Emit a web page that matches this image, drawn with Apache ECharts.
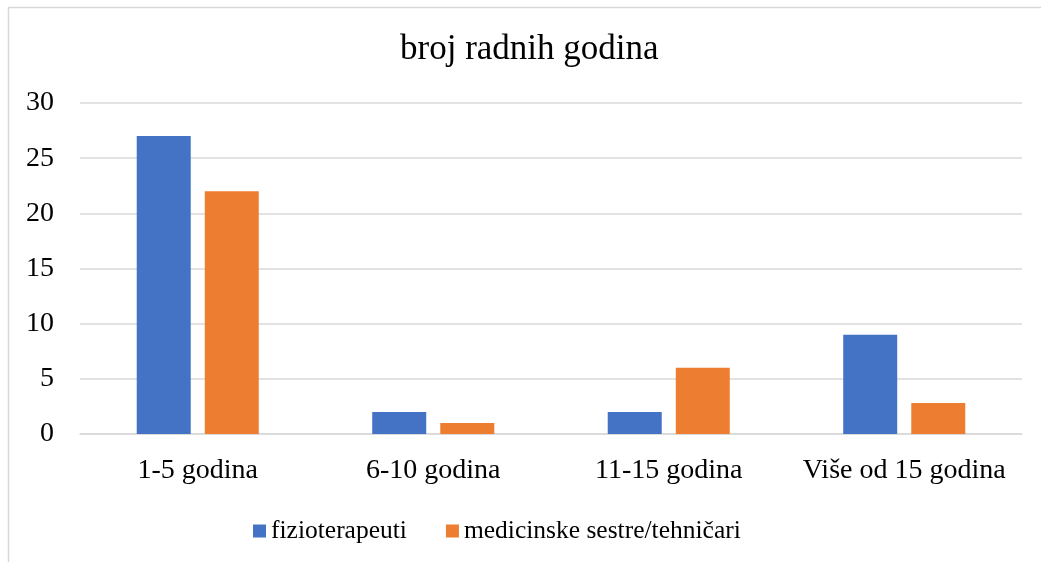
<!DOCTYPE html>
<html>
<head>
<meta charset="utf-8">
<script src="https://cdn.jsdelivr.net/npm/echarts@6/dist/echarts.min.js"></script>
<style>
  html, body { margin: 0; padding: 0; background: #fff; }
  #chart { width: 1041px; height: 562px; }
</style>
</head>
<body>
<div id="chart"></div>
<script>
// categories and values
var categories = ["1-5 godina", "6-10 godina", "11-15 godina", "Više od 15 godina"];
var fizioterapeuti = [27, 2, 2, 9];
var sestre = [22, 1, 6, 2.8];
var seriesNames = ["fizioterapeuti", "medicinske sestre/tehničari"];

var font = "'Liberation Serif', 'Times New Roman', serif";
var myChart = echarts.init(document.getElementById("chart"));

var option = {
  animation: false,
  // outer chart frame (only top and left edge visible)
  graphic: [
    {
      type: "rect",
      shape: { x: 8.5, y: 7.5, width: 1100, height: 700 },
      style: { fill: "none", stroke: "#d9d9d9", lineWidth: 1.5 },
      silent: true,
    },
  ],
  title: {
    text: "broj radnih godina",
    left: 400,
    top: 32,
    padding: 0,
    textStyle: {
      fontFamily: font,
      fontSize: 35,
      fontWeight: "normal",
      color: "#000",
    },
  },
  grid: {
    left: 80,
    right: 19,
    top: 103,
    bottom: 128,
  },
  legend: {
    left: 253,
    top: 517,
    padding: 0,
    itemWidth: 13,
    itemHeight: 13,
    itemGap: 39,
    icon: "rect",
    textStyle: {
      fontFamily: font,
      fontSize: 25.5,
      lineHeight: 28,
      color: "#000",
    },
    data: seriesNames,
  },
  xAxis: {
    type: "category",
    data: categories,
    axisLine: { lineStyle: { color: "#d9d9d9", width: 1.5 } },
    axisTick: { show: false },
    axisLabel: {
      interval: 0,
      hideOverlap: false,
      fontFamily: font,
      fontSize: 28,
      color: "#000",
      margin: 23,
    },
  },
  yAxis: {
    type: "value",
    min: 0,
    max: 30,
    interval: 5,
    axisLine: { show: false },
    axisTick: { show: false },
    splitLine: { lineStyle: { color: "#d9d9d9", width: 1.5 } },
    axisLabel: {
      fontFamily: font,
      fontSize: 28,
      color: "#000",
      margin: 26,
    },
  },
  series: [
    {
      name: seriesNames[0],
      type: "bar",
      data: fizioterapeuti,
      barWidth: 54,
      barGap: "26%",
      itemStyle: { color: "#4472c4" },
    },
    {
      name: seriesNames[1],
      type: "bar",
      data: sestre,
      barWidth: 54,
      itemStyle: { color: "#ed7d31" },
    },
  ],
};
myChart.setOption(option);
</script>
</body>
</html>
